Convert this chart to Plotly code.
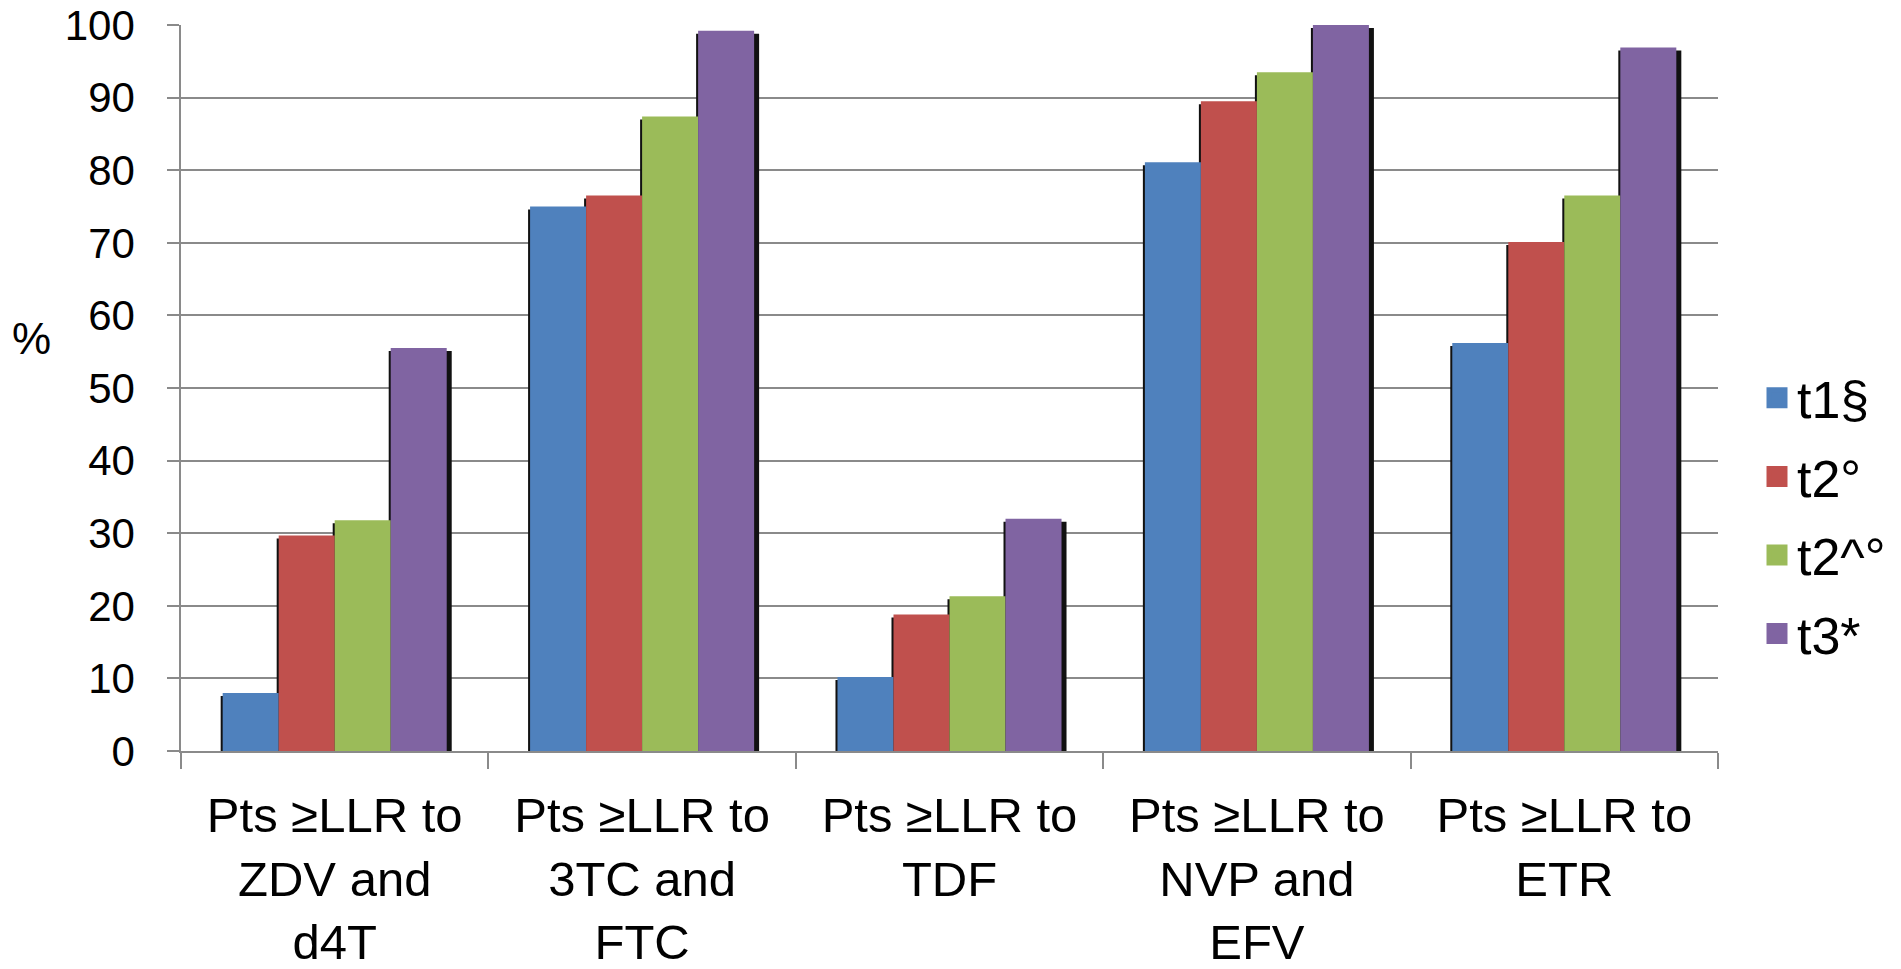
import plotly.graph_objects as go

categories = [
    "Pts ≥LLR to<br>ZDV and<br>d4T",
    "Pts ≥LLR to<br>3TC and<br>FTC",
    "Pts ≥LLR to<br>TDF",
    "Pts ≥LLR to<br>NVP and<br>EFV",
    "Pts ≥LLR to<br>ETR",
]
series_names = ["t1§", "t2°", "t2^°", "t3*"]
t1 = [8.0, 75.0, 10.2, 81.1, 56.2]
t2 = [29.7, 76.5, 18.8, 89.5, 70.1]
t2b = [31.8, 87.4, 21.3, 93.5, 76.5]
t3 = [55.5, 99.2, 32.0, 100.0, 96.9]
series_values = [t1, t2, t2b, t3]
colors = ["#4F81BD", "#C0504D", "#9BBB59", "#8064A2"]
y_ticks = list(range(0, 101, 10))

W, H = 1901, 969
ML, MR, MT, MB = 181, 183, 25, 218
plot_w = W - ML - MR
plot_h = H - MT - MB
cat_px = plot_w / len(categories)
unit_px = plot_h / 100.0

bar_w = 0.1822
group_off = -2 * bar_w
FONT = "Liberation Sans, Arial, sans-serif"

fig = go.Figure()

# shadows (drawn first, behind the bars)
sh_left = 2 / cat_px
sh_right = 5 / cat_px
sh_down = 3 / unit_px
for i, vals in enumerate(series_values):
    fig.add_trace(go.Bar(
        x=categories,
        y=[v - sh_down for v in vals],
        base=0,
        offset=group_off + i * bar_w - sh_left,
        width=bar_w + sh_left + sh_right,
        marker=dict(color="#111111", line=dict(width=0)),
        showlegend=False,
        hoverinfo="skip",
    ))

for i, (name, vals) in enumerate(zip(series_names, series_values)):
    fig.add_trace(go.Bar(
        x=categories,
        y=vals,
        offset=group_off + i * bar_w,
        width=bar_w,
        name=name,
        marker=dict(color=colors[i], line=dict(width=0)),
        showlegend=False,
    ))

# legend entries
for i, name in enumerate(series_names):
    fig.add_trace(go.Scatter(
        x=[None], y=[None], mode="markers", name=name,
        legendgroup=name,
        marker=dict(symbol="square", size=16, color=colors[i],
                    line=dict(color=colors[i], width=5)),
    ))

fig.update_layout(
    width=W, height=H,
    margin=dict(l=ML, r=MR, t=MT, b=MB, pad=0, autoexpand=False),
    barmode="overlay",
    plot_bgcolor="white",
    paper_bgcolor="white",
    font=dict(family=FONT, color="black"),
    legend=dict(
        x=(1757 - ML) / plot_w, xanchor="left",
        y=(751 - 516) / plot_h, yanchor="middle",
        font=dict(size=52, family=FONT, color="black"),
        tracegroupgap=8,
        bgcolor="rgba(0,0,0,0)",
        itemwidth=30,
    ),
    xaxis=dict(
        type="category",
        categoryorder="array", categoryarray=categories,
        automargin=False,
        showline=True, linecolor="#8A8A8A", linewidth=2,
        ticks="outside", tickson="boundaries", ticklen=16,
        tickcolor="#8A8A8A", tickwidth=1.5,
        showgrid=False,
        tickfont=dict(size=49, family=FONT, color="black"),
        ticklabelstandoff=20,
    ),
    yaxis=dict(
        range=[0, 100],
        tickvals=y_ticks,
        automargin=False,
        showline=True, linecolor="#8A8A8A", linewidth=1.5,
        ticks="outside", ticklen=12, tickcolor="#8A8A8A", tickwidth=1.5,
        showgrid=True, gridcolor="#8A8A8A", gridwidth=1.5,
        zeroline=False,
        tickfont=dict(size=42, family=FONT, color="black"),
        ticklabelstandoff=24,
    ),
    annotations=[dict(
        text="%", xref="paper", yref="paper",
        x=(31 - ML) / plot_w, y=(751 - 338) / plot_h,
        xanchor="center", yanchor="middle", showarrow=False,
        font=dict(size=44, family=FONT, color="black"),
    )],
)

fig.write_html("out.html")
